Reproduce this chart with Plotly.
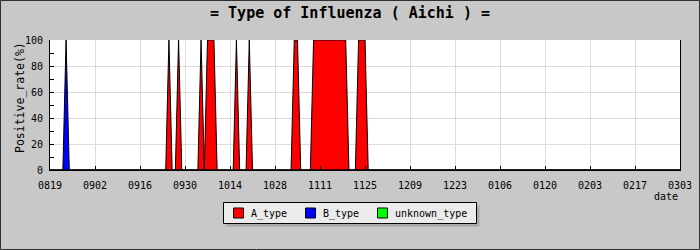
import plotly.graph_objects as go

# ---------------- data ----------------
chart_title = "= Type of Influenza ( Aichi ) ="
y_title = "Positive_rate(%)"
x_title = "date"

series_names = ["A_type", "B_type", "unknown_type"]
series_colors = ["#ff0000", "#0000ff", "#00ff00"]

# daily positive rate (%), only the days around non-zero values are listed
a_dates = ["2009-08-19",
           "2009-09-24", "2009-09-25", "2009-09-26",
           "2009-09-27", "2009-09-28", "2009-09-29",
           "2009-10-04", "2009-10-05", "2009-10-06", "2009-10-07", "2009-10-08", "2009-10-09", "2009-10-10",
           "2009-10-15", "2009-10-16", "2009-10-17",
           "2009-10-19", "2009-10-20", "2009-10-21",
           "2009-11-02", "2009-11-03", "2009-11-04", "2009-11-05",
           "2009-11-08", "2009-11-09", "2009-11-10", "2009-11-11", "2009-11-12", "2009-11-13",
           "2009-11-14", "2009-11-15", "2009-11-16", "2009-11-17", "2009-11-18", "2009-11-19", "2009-11-20",
           "2009-11-22", "2009-11-23", "2009-11-24", "2009-11-25", "2009-11-26",
           "2010-03-03"]
a_values = [0,
            0, 100, 0,
            0, 100, 0,
            0, 100, 0, 100, 100, 100, 0,
            0, 100, 0,
            0, 100, 0,
            0, 100, 100, 0,
            0, 100, 100, 100, 100, 100,
            100, 100, 100, 100, 100, 100, 0,
            0, 100, 100, 100, 0,
            0]

b_dates = ["2009-08-19", "2009-08-23", "2009-08-24", "2009-08-25", "2010-03-03"]
b_values = [0, 0, 100, 0, 0]

u_dates = ["2009-08-19", "2010-03-03"]
u_values = [0, 0]

tick_dates = ["2009-08-19", "2009-09-02", "2009-09-16", "2009-09-30", "2009-10-14",
              "2009-10-28", "2009-11-11", "2009-11-25", "2009-12-09", "2009-12-23",
              "2010-01-06", "2010-01-20", "2010-02-03", "2010-02-17", "2010-03-03"]
tick_labels = ["0819", "0902", "0916", "0930", "1014", "1028", "1111", "1125",
               "1209", "1223", "0106", "0120", "0203", "0217", "0303"]
y_ticks = [0, 20, 40, 60, 80, 100]

# ---------------- layout geometry (pixels) ----------------
W, H = 700, 250
ML, MR, MT, MB = 50, 20, 40, 80
PW, PH = W - ML - MR, H - MT - MB


def px(x):
    return (x - ML) / PW


def py(y):
    return (H - MB - y) / PH


FONT = "DejaVu Sans Mono"

fig = go.Figure()
all_series = [(a_dates, a_values), (b_dates, b_values), (u_dates, u_values)]
for (d, v), name, col in zip(all_series, series_names, series_colors):
    fig.add_trace(go.Scatter(
        x=d, y=v, name=name, mode="lines",
        line=dict(color="#000000", width=1),
        fill="tozeroy", fillcolor=col, showlegend=False,
        hoverinfo="skip",
    ))

shapes = []
annotations = []

# outer frame of image
shapes.append(dict(type="rect", xref="paper", yref="paper",
                   x0=px(0.5), x1=px(W - 0.5), y0=py(H - 0.5), y1=py(0.5),
                   line=dict(color="#303030", width=1), layer="above"))

# legend (box + shadow + swatches + labels)
lx0, lx1, ly0, ly1 = 223.5, 476.5, 202.5, 223.5
shapes.append(dict(type="rect", xref="paper", yref="paper",
                   x0=px(lx0 + 3), x1=px(lx1 + 3), y0=py(ly1 + 3), y1=py(ly0 + 3),
                   line=dict(width=0), fillcolor="#a9a9a9", layer="above"))
shapes.append(dict(type="rect", xref="paper", yref="paper",
                   x0=px(lx0), x1=px(lx1), y0=py(ly1), y1=py(ly0),
                   line=dict(color="#000000", width=1), fillcolor="#ebebeb", layer="above"))
swatch_left = [233.5, 305.5, 377.5]
for sx, name, col in zip(swatch_left, series_names, series_colors):
    shapes.append(dict(type="rect", xref="paper", yref="paper",
                       x0=px(sx), x1=px(sx + 10), y0=py(218), y1=py(208),
                       line=dict(color="#000000", width=1), fillcolor=col, layer="above"))
    annotations.append(dict(text=name, xref="paper", yref="paper",
                            x=px(sx + 15.5), y=py(213.5), xanchor="left", yanchor="middle",
                            showarrow=False, font=dict(family=FONT, size=10, color="#000000")))

# axis titles
annotations.append(dict(text=y_title, xref="paper", yref="paper",
                        x=px(20), y=py(98), textangle=-90, xanchor="center", yanchor="middle",
                        showarrow=False, font=dict(family=FONT, size=11.5, color="#000000")))
annotations.append(dict(text=x_title, xref="paper", yref="paper",
                        x=px(680), y=py(196.5), xanchor="right", yanchor="middle",
                        showarrow=False, font=dict(family=FONT, size=10, color="#000000")))

fig.update_layout(
    width=W, height=H,
    margin=dict(l=ML, r=MR, t=MT, b=MB, pad=0),
    paper_bgcolor="#c8c8c8", plot_bgcolor="#ffffff",
    font=dict(family=FONT, size=10, color="#000000"),
    title=dict(text=chart_title, x=0.5, xanchor="center", xref="container",
               y=1 - 12.5 / H, yanchor="middle", yref="container",
               font=dict(family=FONT, size=15, color="#000000", weight="bold")),
    showlegend=False,
    shapes=shapes, annotations=annotations,
)
fig.update_xaxes(
    type="date", range=[tick_dates[0], tick_dates[-1]],
    tickmode="array", tickvals=tick_dates, ticktext=tick_labels,
    ticks="inside", ticklen=4, tickcolor="#000000", tickwidth=1,
    showgrid=True, gridcolor="#dcdcdc", gridwidth=1,
    showline=True, linecolor="#000000", linewidth=1, mirror=False,
    zeroline=False, automargin=False, ticklabelstandoff=6,
    tickfont=dict(family=FONT, size=10),
)
fig.update_yaxes(
    range=[0, 100], tickmode="array", tickvals=y_ticks,
    ticks="inside", ticklen=4, tickcolor="#000000", tickwidth=1,
    minor=dict(dtick=10, tick0=0, ticks="inside", ticklen=4, tickcolor="#000000",
               showgrid=False, gridcolor="rgba(0,0,0,0)"),
    showgrid=True, gridcolor="#dcdcdc", gridwidth=1,
    showline=True, linecolor="#000000", linewidth=1, mirror=True,
    zeroline=False, automargin=False, ticklabelstandoff=4,
    tickfont=dict(family=FONT, size=10),
)

fig.write_html("out.html")
